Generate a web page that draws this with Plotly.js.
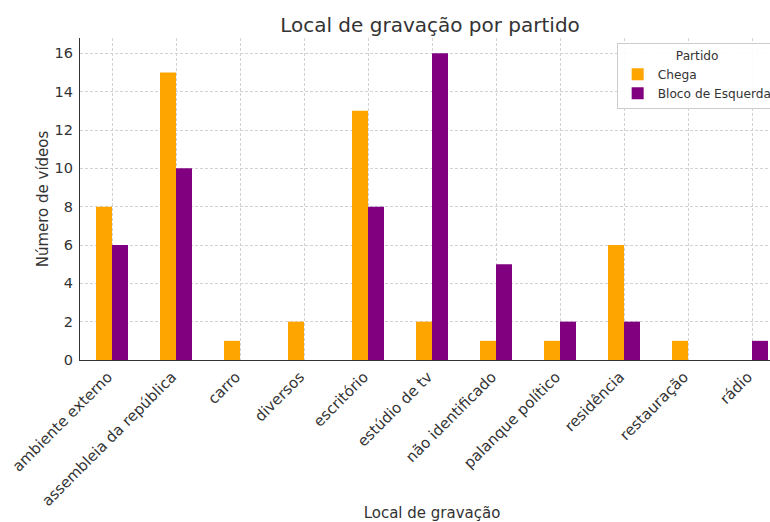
<!DOCTYPE html>
<html>
<head>
<meta charset="utf-8">
<script src="https://cdn.plot.ly/plotly-3.0.1.min.js"></script>
<style>
html, body { margin:0; padding:0; overflow:hidden; background:#fff; }
#chart { width:784px; height:522px; }
</style>
</head>
<body>
<div id="chart"></div>
<script>
const categories = ["ambiente externo", "assembleia da república", "carro", "diversos", "escritório", "estúdio de tv", "não identificado", "palanque político", "residência", "restauração", "rádio"];
const chega = [8, 15, 1, 2, 13, 2, 1, 1, 6, 1, 0];
const bloco = [6, 10, 0, 0, 8, 16, 5, 2, 2, 0, 1];
const seriesNames = ["Chega", "Bloco de Esquerda"];
const yTicks = [0, 2, 4, 6, 8, 10, 12, 14, 16];

const font = "DejaVu Sans, sans-serif";
const traces = [
  {type: "bar", name: seriesNames[0], x: categories, y: chega, marker: {color: "#FFA500", line: {width: 0}}},
  {type: "bar", name: seriesNames[1], x: categories, y: bloco, marker: {color: "#800080", line: {width: 0}}}
];
const layout = {
  width: 784, height: 522,
  margin: {l: 80, r: 0, t: 38, b: 162},
  paper_bgcolor: "#fff", plot_bgcolor: "#fff",
  font: {family: font, color: "#333", size: 14},
  barmode: "group", bargap: 0.5, bargroupgap: 0,
  title: {text: "Local de gravação por partido", font: {size: 20, color: "#333", family: font}, x: 430/784, xanchor: "center", y: 0.953, yanchor: "middle"},
  xaxis: {
    type: "category", range: [-0.5, 10.5],
    tickangle: -45, tickfont: {size: 15, color: "#333"},
    showgrid: true, gridcolor: "#d2d2d2", griddash: "3px,2px", gridwidth: 1,
    showline: true, linecolor: "#333", linewidth: 1.2,
    ticks: "", ticklabelshift: -4, ticklabelstandoff: 1,
    title: {text: "Local de gravação", font: {size: 15, color: "#333"}, standoff: 5},
    zeroline: false
  },
  yaxis: {
    range: [0, 16.8], tickvals: yTicks,
    tickfont: {size: 14.5, color: "#333"},
    showgrid: true, gridcolor: "#d2d2d2", griddash: "3px,2px", gridwidth: 1,
    showline: true, linecolor: "#333", linewidth: 1.2,
    ticks: "", ticklabelstandoff: 3,
    title: {text: "Número de vídeos", font: {size: 15, color: "#333"}, standoff: 2},
    zeroline: false
  },
  legend: {
    x: 0.991, xanchor: "right", y: 0.985, yanchor: "top",
    bgcolor: "rgba(255,255,255,0.9)", bordercolor: "#cccccc", borderwidth: 1,
    font: {size: 12.2, color: "#333"},
    title: {text: "Partido", side: "top center", font: {size: 12.2, color: "#333"}},
    tracegroupgap: 2
  },
  showlegend: true
};
Plotly.newPlot("chart", traces, layout, {displayModeBar: false, staticPlot: true});
</script>
</body>
</html>
